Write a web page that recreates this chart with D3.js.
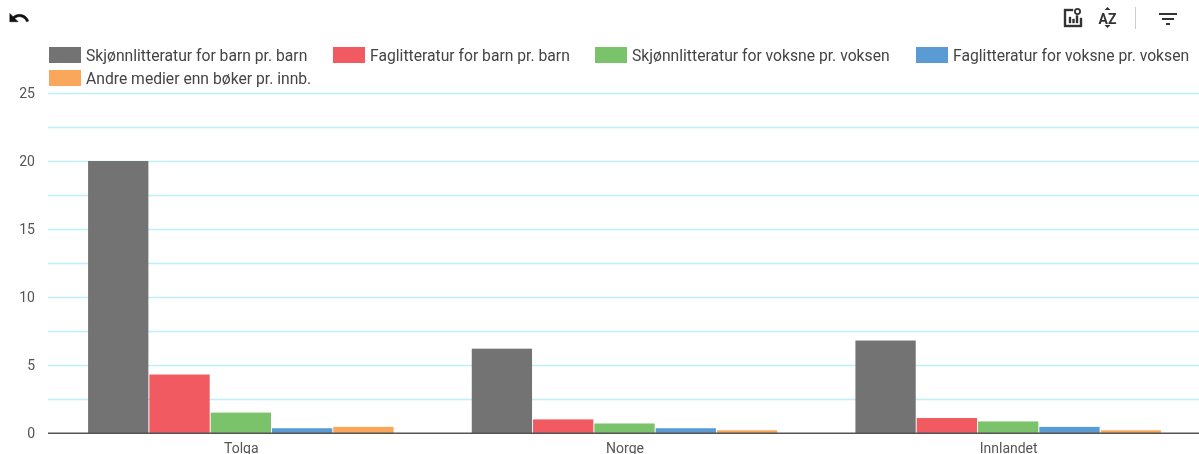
<!DOCTYPE html>
<html><head><meta charset="utf-8">
<script src="https://cdn.jsdelivr.net/npm/d3@7"></script>
<style>html,body{margin:0;padding:0;background:#fff}svg{display:block;filter:blur(.35px)}text{font-family:Roboto,sans-serif}</style>
</head><body><svg id="c" width="1199" height="454"></svg>
<script>
const categories=["Tolga","Norge","Innlandet"];
const seriesNames=["Skjønnlitteratur for barn pr. barn","Faglitteratur for barn pr. barn","Skjønnlitteratur for voksne pr. voksen","Faglitteratur for voksne pr. voksen","Andre medier enn bøker pr. innb."];
const colors=["#737373","#f15a60","#7ac36a","#5a9bd4","#faa75b"];
const fiction_children=[20,6.2,6.8];
const nonfiction_children=[4.3,1.0,1.1];
const fiction_adults=[1.5,0.7,0.85];
const nonfiction_adults=[0.35,0.35,0.45];
const other_media=[0.45,0.2,0.2];
const seriesValues=[fiction_children,nonfiction_children,fiction_adults,nonfiction_adults,other_media];
const majorTicks=[0,5,10,15,20,25];
const minorTicks=[2.5,7.5,12.5,17.5,22.5];
const legendX=[49,333,595,916,49];
const legendY=[47,47,47,47,70];

const svg=d3.select("#c");
const y=d3.scaleLinear().domain([0,25]).range([433,93]);
const x0=d3.scaleBand().domain(categories).range([48,1199]);
const innerPad=(x0.bandwidth()-306.5)/2;
const x1=d3.scaleBand().domain(d3.range(5)).range([innerPad+1,x0.bandwidth()-innerPad+1]);

// grid
svg.append("g").selectAll("line").data(majorTicks.concat(minorTicks).filter(d=>d>0)).join("line")
 .attr("x1",48).attr("x2",1199).attr("y1",d=>y(d)+.5).attr("y2",d=>y(d)+.5)
 .attr("stroke","#bdf0f7").attr("stroke-width",1.5);

// y tick labels
svg.append("g").selectAll("text").data(majorTicks).join("text")
 .attr("x",35).attr("y",d=>y(d)).attr("dy","0.35em").attr("text-anchor","end")
 .attr("font-size",14).attr("fill","#555").text(d=>d);

// bars
const groups=svg.append("g").selectAll("g").data(categories).join("g")
 .attr("transform",d=>`translate(${x0(d)},0)`);
groups.each(function(c,ci){
  d3.select(this).selectAll("rect").data(seriesValues.map((s,i)=>({i,v:s[ci]}))).join("rect")
   .attr("x",d=>x1(d.i)+.5).attr("width",x1.bandwidth()-1)
   .attr("y",d=>y(d.v)).attr("height",d=>y(0)-y(d.v))
   .attr("fill",d=>colors[d.i]);
});

// baseline
svg.append("line").attr("x1",48).attr("x2",1199).attr("y1",433.3).attr("y2",433.3)
 .attr("stroke","#555").attr("stroke-width",1.6);

// x labels
svg.append("g").selectAll("text").data(categories).join("text")
 .attr("x",d=>x0(d)+x0.bandwidth()/2+1.5).attr("y",453).attr("text-anchor","middle")
 .attr("font-size",14).attr("fill","#555").text(d=>d);

// legend
const lg=svg.append("g").selectAll("g").data(seriesNames).join("g")
 .attr("transform",(d,i)=>`translate(${legendX[i]},${legendY[i]})`);
lg.append("rect").attr("width",32).attr("height",16).attr("fill",(d,i)=>colors[i]);
lg.append("text").attr("x",37).attr("y",8.5).attr("dy","0.35em").attr("font-size",15.7).attr("fill","#444").text(d=>d);

// toolbar icons
svg.append("path").attr("transform","translate(8,7) scale(.92)")
 .attr("d","M12.5 8c-2.65 0-5.05.99-6.9 2.6L2 7v9h9l-3.62-3.62c1.39-1.16 3.16-1.88 5.12-1.88 3.54 0 6.55 2.31 7.6 5.5l2.37-.78C21.08 11.03 17.15 8 12.5 8z")
 .attr("fill","#111").attr("stroke","#111").attr("stroke-width",.6);
svg.append("path").attr("transform","translate(1061,6)")
 .attr("d","M3 3h9v2H5v14h14v-7h2v9H3z M8 11h2v6H8z M11.5 13h2v4h-2z M15 9.5h2V17h-2z")
 .attr("fill","#333").attr("stroke","#333").attr("stroke-width",.4);
svg.append("circle").attr("cx",1077.5).attr("cy",11.5).attr("r",2.6).attr("fill","none").attr("stroke","#333").attr("stroke-width",1.8);
svg.append("text").attr("x",1107.5).attr("y",24).attr("text-anchor","middle").attr("font-size",14).attr("font-weight",700).attr("fill","#333").text("AZ");
svg.append("path").attr("d","M1104.5 10l3-3 3 3z M1104.5 25l3 3 3-3z").attr("fill","#333");
svg.append("line").attr("x1",1135.5).attr("x2",1135.5).attr("y1",7).attr("y2",29).attr("stroke","#ccc");
svg.append("path").attr("transform","translate(1156,6)")
 .attr("d","M3 7v2h18V7z M6 12v2h12v-2z M10 17v2h4v-2z").attr("fill","#333");
</script></body></html>
